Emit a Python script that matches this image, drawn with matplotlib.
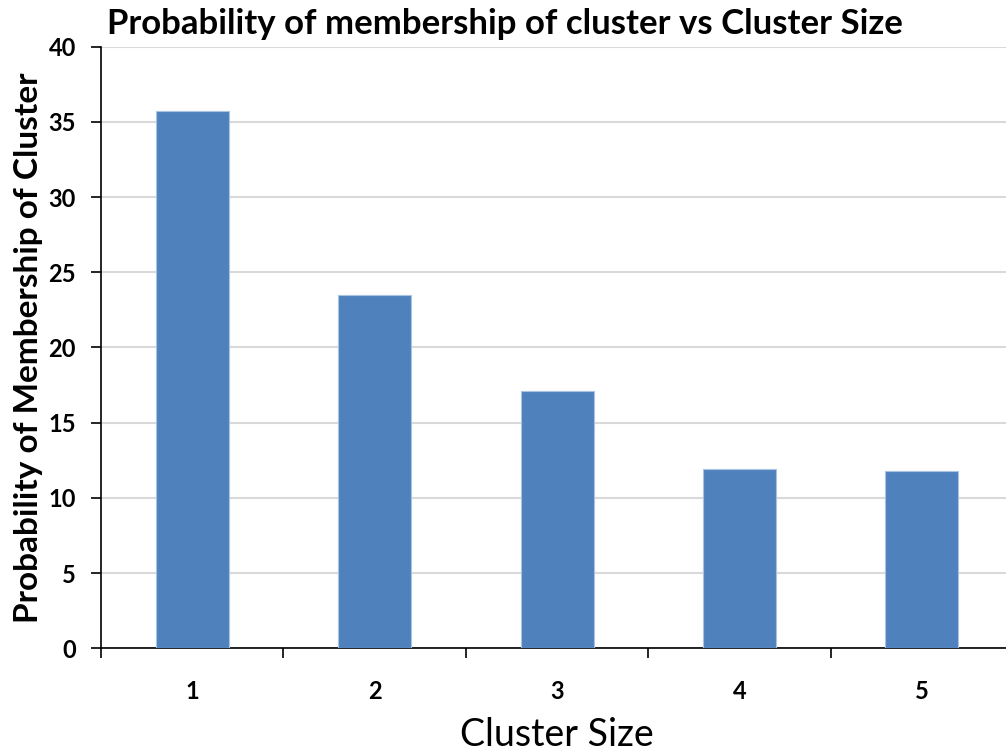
import matplotlib.pyplot as plt
import numpy as np

# data
cluster_size = ["1", "2", "3", "4", "5"]
probability = [35.74, 23.47, 17.09, 11.90, 11.77]

plt.rcParams['font.family'] = ['Lato', 'DejaVu Sans']

fig = plt.figure(figsize=(10.06, 7.52), dpi=100)
ax = fig.add_axes([0.1004, 0.1379, 0.9066, 0.80])

x = np.arange(1, len(cluster_size) + 1)
ax.bar(x, probability, width=0.4, color='#4F81BD', edgecolor='#A9C3E3',
       linewidth=0.8, zorder=3)

ax.set_xlim(0.5, 5.5)
ax.set_ylim(0, 40)
ax.set_yticks(range(0, 41, 5))
ax.grid(axis='y', color='#D9D9D9', linewidth=1.5, zorder=0)

ax.set_xticks(x)
ax.set_xticklabels(cluster_size)
ax.set_xticks(np.arange(0.5, 5.6, 1.0), minor=True)
ax.tick_params(axis='x', which='major', length=0, pad=23, labelsize=17)
ax.tick_params(axis='x', which='minor', length=7, width=1.2, direction='out')
ax.tick_params(axis='y', length=7, width=1.2, pad=11, labelsize=17)
for lab in ax.get_xticklabels() + ax.get_yticklabels():
    lab.set_fontweight('bold')

for s in ['top', 'right']:
    ax.spines[s].set_visible(False)
ax.spines['left'].set_linewidth(1.2)
ax.spines['bottom'].set_linewidth(1.2)

ax.set_ylabel('Probability of Membership of Cluster', fontsize=24,
              fontweight='bold', labelpad=4)
ax.set_xlabel('Cluster Size', fontsize=27, labelpad=10)
fig.text(0.106, 0.968, 'Probability of membership of cluster vs Cluster Size',
         fontsize=25, fontweight='bold', ha='left', va='center')

fig.savefig('out.png', dpi=100)
